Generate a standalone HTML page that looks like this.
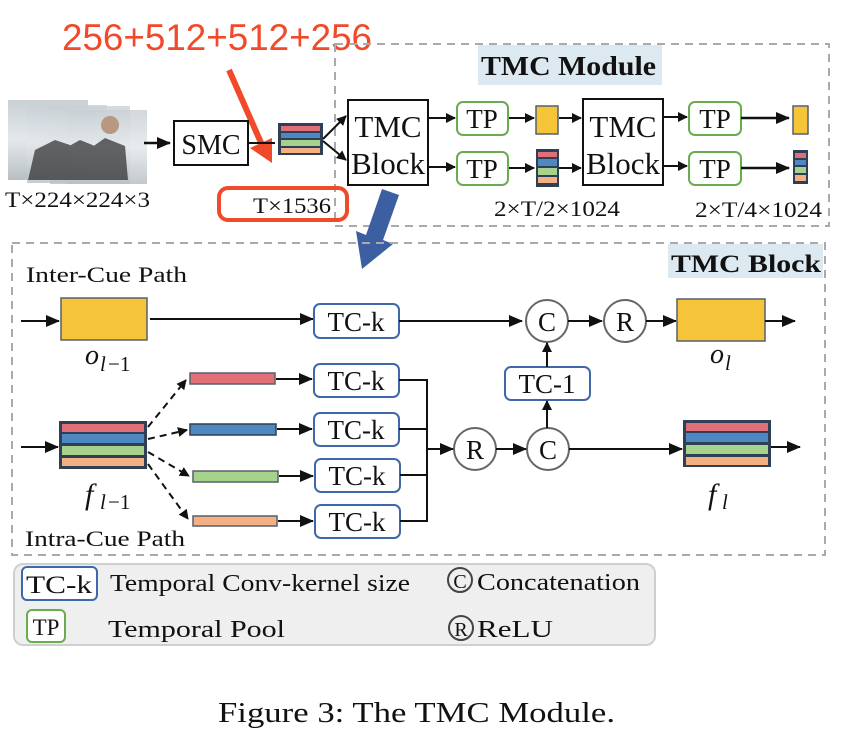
<!DOCTYPE html>
<html><head><meta charset="utf-8"><style>
html,body{margin:0;padding:0;background:#fff;width:850px;height:736px;overflow:hidden}
svg{display:block}
text{font-family:"Liberation Serif",serif;fill:#111}
</style></head><body>
<svg width="850" height="736" viewBox="0 0 850 736" xmlns="http://www.w3.org/2000/svg">
<defs>
<marker id="a" markerWidth="10" markerHeight="10" refX="9" refY="5" orient="auto" markerUnits="userSpaceOnUse"><path d="M0,0 L10,5 L0,10 z" fill="#111"/></marker>
<marker id="b" markerWidth="14" markerHeight="12" refX="13" refY="6" orient="auto" markerUnits="userSpaceOnUse"><path d="M0,0 L14,6 L0,12 z" fill="#111"/></marker>
<linearGradient id="g" x1="0" y1="0" x2="0" y2="1"><stop offset="0" stop-color="#c9d0d5"/><stop offset="0.5" stop-color="#e3e8ea"/><stop offset="1" stop-color="#b8c0c4"/></linearGradient>
</defs>

<text x="62" y="50" textLength="310" lengthAdjust="spacingAndGlyphs" style="font-family:'Liberation Sans',sans-serif;font-size:37px;fill:#f04a2a">256+512+512+256</text>
<path d="M229,70 L262,145" stroke="#f04a2a" stroke-width="6"/>
<path d="M250,148 L272,163 L272,138 z" fill="#f04a2a"/>

<rect x="335" y="44" width="494" height="182" fill="none" stroke="#aaa" stroke-width="2" stroke-dasharray="8,6"/>
<rect x="478" y="45" width="184" height="40" fill="#dde9f0"/>
<text x="481" y="75" textLength="175" lengthAdjust="spacingAndGlyphs" style="font-size:27px;font-weight:bold">TMC Module</text>

<rect x="8" y="100" width="80" height="80" fill="url(#g)"/>
<rect x="27" y="105" width="80" height="78" fill="url(#g)" opacity="0.8"/>
<rect x="50" y="106" width="80" height="78" fill="url(#g)" opacity="0.8"/>
<rect x="67" y="110" width="80" height="74" fill="url(#g)" opacity="0.85"/>
<path d="M28,180 L35,150 L55,140 L70,145 L72,180 z M60,180 L62,150 L80,140 L95,146 L98,180 z M85,180 L88,150 L105,138 L125,146 L128,180 z" fill="#2a2a2a" opacity="0.7"/>
<circle cx="110" cy="125" r="9" fill="#b89880"/>
<text x="5" y="207" textLength="145" lengthAdjust="spacingAndGlyphs" style="font-size:22px">T×224×224×3</text>
<line x1="144" y1="143" x2="170" y2="143" stroke="#111" stroke-width="2.5" marker-end="url(#b)"/>

<rect x="174" y="121" width="74" height="44" fill="#fff" stroke="#111" stroke-width="2"/>
<text x="211" y="154" text-anchor="middle" style="font-size:28px">SMC</text>
<line x1="248" y1="143" x2="275" y2="143" stroke="#111" stroke-width="2"/>

<rect x="278" y="123" width="45" height="32" fill="#2f3f55"/>
<rect x="281" y="126" width="39" height="5" fill="#e06f78"/>
<rect x="281" y="133" width="39" height="5" fill="#4f87c0"/>
<rect x="281" y="140" width="39" height="6" fill="#a6d28b"/>
<rect x="281" y="148" width="39" height="5" fill="#f3b183"/>

<rect x="219" y="188" width="128" height="32" rx="9" fill="none" stroke="#f04a2a" stroke-width="4"/>
<text x="253" y="213" textLength="78" lengthAdjust="spacingAndGlyphs" style="font-size:22px">T×1536</text>

<line x1="323" y1="139" x2="346" y2="116" stroke="#111" stroke-width="2" marker-end="url(#a)"/>
<line x1="323" y1="141" x2="346" y2="160" stroke="#111" stroke-width="2" marker-end="url(#a)"/>

<rect x="348" y="100" width="80" height="85" fill="#fff" stroke="#111" stroke-width="2"/>
<text x="388" y="137" text-anchor="middle" style="font-size:31px">TMC</text>
<text x="388" y="174" text-anchor="middle" style="font-size:31px">Block</text>
<line x1="428" y1="118" x2="455" y2="118" stroke="#111" stroke-width="2" marker-end="url(#a)"/>
<line x1="428" y1="167" x2="455" y2="167" stroke="#111" stroke-width="2" marker-end="url(#a)"/>

<rect x="457" y="102" width="51" height="33" rx="6" fill="#fff" stroke="#6aab4f" stroke-width="2"/>
<text x="482" y="128" text-anchor="middle" style="font-size:27px">TP</text>
<rect x="457" y="152" width="51" height="33" rx="6" fill="#fff" stroke="#6aab4f" stroke-width="2"/>
<text x="482" y="178" text-anchor="middle" style="font-size:27px">TP</text>

<line x1="509" y1="118" x2="534" y2="118" stroke="#111" stroke-width="2" marker-end="url(#a)"/>
<line x1="509" y1="168" x2="534" y2="168" stroke="#111" stroke-width="2" marker-end="url(#a)"/>
<rect x="536" y="106" width="22" height="28" fill="#f5c438" stroke="#55606e" stroke-width="1.5"/>
<rect x="536" y="149" width="23" height="38" fill="#2f3f55"/>
<rect x="538" y="152" width="19" height="5" fill="#e06f78"/>
<rect x="538" y="159" width="19" height="7" fill="#4f87c0"/>
<rect x="538" y="168" width="19" height="7" fill="#a6d28b"/>
<rect x="538" y="177" width="19" height="6" fill="#f3b183"/>
<line x1="559" y1="118" x2="581" y2="118" stroke="#111" stroke-width="2" marker-end="url(#a)"/>
<line x1="559" y1="168" x2="581" y2="168" stroke="#111" stroke-width="2" marker-end="url(#a)"/>

<rect x="583" y="99" width="80" height="86" fill="#fff" stroke="#111" stroke-width="2"/>
<text x="623" y="137" text-anchor="middle" style="font-size:31px">TMC</text>
<text x="623" y="174" text-anchor="middle" style="font-size:31px">Block</text>
<line x1="663" y1="117" x2="687" y2="117" stroke="#111" stroke-width="2" marker-end="url(#a)"/>
<line x1="663" y1="166" x2="687" y2="166" stroke="#111" stroke-width="2" marker-end="url(#a)"/>
<rect x="689" y="102" width="52" height="33" rx="6" fill="#fff" stroke="#6aab4f" stroke-width="2"/>
<text x="715" y="128" text-anchor="middle" style="font-size:27px">TP</text>
<rect x="689" y="152" width="52" height="33" rx="6" fill="#fff" stroke="#6aab4f" stroke-width="2"/>
<text x="715" y="178" text-anchor="middle" style="font-size:27px">TP</text>
<line x1="741" y1="118" x2="789" y2="118" stroke="#111" stroke-width="2.5" marker-end="url(#b)"/>
<line x1="741" y1="168" x2="789" y2="168" stroke="#111" stroke-width="2.5" marker-end="url(#b)"/>
<rect x="793" y="106" width="15" height="28" fill="#f5c438" stroke="#55606e" stroke-width="1.5"/>
<rect x="793" y="150" width="15" height="34" fill="#2f3f55"/>
<rect x="795" y="153" width="11" height="5" fill="#e06f78"/>
<rect x="795" y="160" width="11" height="5" fill="#4f87c0"/>
<rect x="795" y="167" width="11" height="6" fill="#a6d28b"/>
<rect x="795" y="175" width="11" height="6" fill="#f3b183"/>
<text x="494" y="216" textLength="126" lengthAdjust="spacingAndGlyphs" style="font-size:22px">2×T/2×1024</text>
<text x="695" y="217" textLength="127" lengthAdjust="spacingAndGlyphs" style="font-size:22px">2×T/4×1024</text>

<path d="M382,189 L399,195 L383,240 L393,244 L362,269 L356,231 L366,235 z" fill="#3b5fa0"/>

<rect x="12" y="243" width="813" height="312" fill="none" stroke="#aaa" stroke-width="2" stroke-dasharray="8,6"/>
<rect x="668" y="244" width="155" height="34" fill="#dde9f0"/>
<text x="671" y="272" textLength="150" lengthAdjust="spacingAndGlyphs" style="font-size:25px;font-weight:bold">TMC Block</text>

<text x="26" y="282" textLength="161" lengthAdjust="spacingAndGlyphs" style="font-size:22px">Inter-Cue Path</text>
<line x1="21" y1="321" x2="59" y2="321" stroke="#111" stroke-width="2" marker-end="url(#b)"/>
<rect x="61" y="298" width="86" height="42" fill="#f5c438" stroke="#55606e" stroke-width="1.5"/>
<text x="85" y="364" style="font-size:28px;font-style:italic">o</text>
<text x="100" y="371" style="font-size:21px;font-style:italic">l</text>
<text x="108" y="371" style="font-size:21px">−1</text>
<line x1="150" y1="319" x2="313" y2="319" stroke="#111" stroke-width="2" marker-end="url(#b)"/>

<g stroke="#3f68a8" stroke-width="2" fill="#fff">
<rect x="314" y="304" width="85" height="34" rx="6"/>
<rect x="314" y="364" width="85" height="33" rx="6"/>
<rect x="314" y="413" width="85" height="33" rx="6"/>
<rect x="315" y="459" width="85" height="33" rx="6"/>
<rect x="315" y="505" width="85" height="33" rx="6"/>
<rect x="505" y="367" width="85" height="33" rx="6"/>
</g>
<g style="font-size:27px" text-anchor="middle">
<text x="356" y="331">TC-k</text>
<text x="356" y="390">TC-k</text>
<text x="356" y="439">TC-k</text>
<text x="357" y="485">TC-k</text>
<text x="357" y="531">TC-k</text>
<text x="547" y="393">TC-1</text>
</g>
<line x1="399" y1="321" x2="522" y2="321" stroke="#111" stroke-width="2" marker-end="url(#b)"/>

<g fill="#fff" stroke="#666" stroke-width="2">
<circle cx="547" cy="321" r="21"/>
<circle cx="625" cy="321" r="21"/>
<circle cx="475" cy="449" r="21"/>
<circle cx="548" cy="449" r="21"/>
</g>
<g style="font-size:27px" text-anchor="middle">
<text x="547" y="331">C</text>
<text x="625" y="331">R</text>
<text x="475" y="459">R</text>
<text x="548" y="459">C</text>
</g>
<line x1="568" y1="321" x2="602" y2="321" stroke="#111" stroke-width="2" marker-end="url(#b)"/>
<line x1="646" y1="321" x2="676" y2="321" stroke="#111" stroke-width="2" marker-end="url(#b)"/>
<rect x="677" y="299" width="88" height="42" fill="#f5c438" stroke="#55606e" stroke-width="1.5"/>
<line x1="765" y1="321" x2="795" y2="321" stroke="#111" stroke-width="2" marker-end="url(#b)"/>
<text x="710" y="363" style="font-size:28px;font-style:italic">o</text>
<text x="725" y="370" style="font-size:21px;font-style:italic">l</text>

<line x1="547" y1="428" x2="547" y2="401" stroke="#111" stroke-width="2" marker-end="url(#a)"/>
<line x1="547" y1="367" x2="547" y2="343" stroke="#111" stroke-width="2" marker-end="url(#a)"/>

<line x1="21" y1="447" x2="58" y2="447" stroke="#111" stroke-width="2" marker-end="url(#b)"/>
<rect x="59" y="421" width="88" height="48" fill="#2f3f55"/>
<rect x="62" y="424" width="82" height="8" fill="#e06f78"/>
<rect x="62" y="434" width="82" height="9" fill="#4f87c0"/>
<rect x="62" y="446" width="82" height="9" fill="#a6d28b"/>
<rect x="62" y="458" width="82" height="8" fill="#f3b183"/>
<text x="85" y="504" style="font-size:30px;font-style:italic">f</text>
<text x="100" y="509" style="font-size:21px;font-style:italic">l</text>
<text x="108" y="509" style="font-size:21px">−1</text>

<g stroke="#111" stroke-width="2" stroke-dasharray="7,5" fill="none">
<line x1="148" y1="427" x2="186" y2="380" marker-end="url(#a)"/>
<line x1="148" y1="439" x2="187" y2="430" marker-end="url(#a)"/>
<line x1="148" y1="452" x2="189" y2="476" marker-end="url(#a)"/>
<line x1="148" y1="464" x2="188" y2="519" marker-end="url(#a)"/>
</g>
<rect x="190" y="373" width="85" height="11" fill="#e06f78" stroke="#55606e" stroke-width="1.5"/>
<rect x="190" y="424" width="86" height="11" fill="#4f87c0" stroke="#2f3f55" stroke-width="1.5"/>
<rect x="193" y="471" width="85" height="11" fill="#a6d28b" stroke="#55606e" stroke-width="1.5"/>
<rect x="193" y="516" width="84" height="10" fill="#f3b183" stroke="#55606e" stroke-width="1.5"/>
<g stroke="#111" stroke-width="2">
<line x1="276" y1="379" x2="312" y2="379" marker-end="url(#b)"/>
<line x1="277" y1="429" x2="312" y2="429" marker-end="url(#b)"/>
<line x1="279" y1="476" x2="313" y2="476" marker-end="url(#b)"/>
<line x1="278" y1="521" x2="313" y2="521" marker-end="url(#b)"/>
<polyline points="399,380 427,380 427,521 400,521" fill="none"/>
<line x1="399" y1="429" x2="427" y2="429"/>
<line x1="400" y1="475" x2="427" y2="475"/>
<line x1="427" y1="449" x2="453" y2="449" marker-end="url(#b)"/>
<line x1="496" y1="449" x2="526" y2="449" marker-end="url(#b)"/>
<line x1="569" y1="449" x2="682" y2="449" marker-end="url(#b)"/>
<line x1="770" y1="447" x2="800" y2="447" marker-end="url(#b)"/>
</g>
<rect x="683" y="420" width="88" height="47" fill="#2f3f55"/>
<rect x="686" y="423" width="82" height="8" fill="#e06f78"/>
<rect x="686" y="433" width="82" height="9" fill="#4f87c0"/>
<rect x="686" y="445" width="82" height="9" fill="#a6d28b"/>
<rect x="686" y="457" width="82" height="8" fill="#f3b183"/>
<text x="708" y="504" style="font-size:30px;font-style:italic">f</text>
<text x="722" y="509" style="font-size:21px;font-style:italic">l</text>
<text x="25" y="546" textLength="160" lengthAdjust="spacingAndGlyphs" style="font-size:22px">Intra-Cue Path</text>

<rect x="14" y="564" width="641" height="81" rx="9" fill="#efefef" stroke="#cfcfcf" stroke-width="2"/>
<rect x="22" y="567" width="75" height="33" rx="5" fill="#fff" stroke="#3f68a8" stroke-width="2"/>
<text x="59" y="593" text-anchor="middle" textLength="66" lengthAdjust="spacingAndGlyphs" style="font-size:25px">TC-k</text>
<text x="110" y="591" textLength="300" lengthAdjust="spacingAndGlyphs" style="font-size:24px">Temporal Conv-kernel size</text>
<rect x="27" y="610" width="38" height="32" rx="5" fill="#fff" stroke="#6aab4f" stroke-width="2"/>
<text x="46" y="635" text-anchor="middle" style="font-size:23px">TP</text>
<text x="108" y="637" textLength="177" lengthAdjust="spacingAndGlyphs" style="font-size:24px">Temporal Pool</text>
<circle cx="460" cy="580" r="12" fill="none" stroke="#444" stroke-width="2"/>
<text x="460" y="588" text-anchor="middle" style="font-size:20px">C</text>
<text x="477" y="590" textLength="163" lengthAdjust="spacingAndGlyphs" style="font-size:24px">Concatenation</text>
<circle cx="461" cy="628" r="12" fill="none" stroke="#444" stroke-width="2"/>
<text x="461" y="636" text-anchor="middle" style="font-size:20px">R</text>
<text x="477" y="637" textLength="76" lengthAdjust="spacingAndGlyphs" style="font-size:24px">ReLU</text>

<text x="218" y="722" textLength="397" lengthAdjust="spacingAndGlyphs" style="font-size:28px">Figure 3: The TMC Module.</text>
</svg>
</body></html>
